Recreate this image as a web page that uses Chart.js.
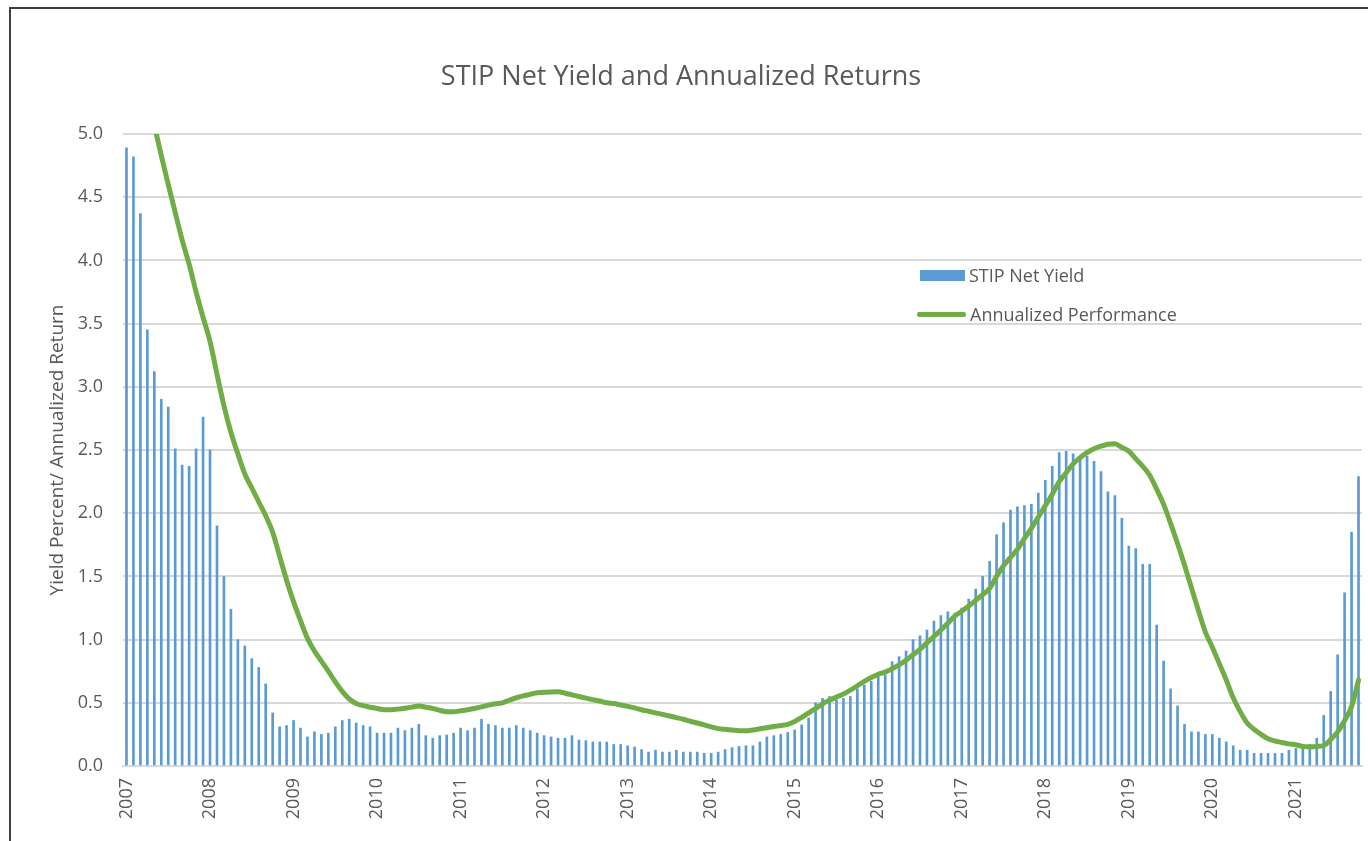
<!DOCTYPE html>
<html><head><meta charset="utf-8">
<script src="https://cdn.jsdelivr.net/npm/chart.js@4.4.0/dist/chart.umd.min.js"></script>
<style>
html,body{margin:0;padding:0;background:#fff;}
#wrap{position:relative;width:1368px;height:841px;overflow:hidden;}
#frame{position:absolute;left:9px;top:7px;width:1400px;height:900px;border-top:2px solid #404040;border-left:2px solid #404040;}
canvas{position:absolute;left:0;top:0;}
.lg{position:absolute;font-family:'Open Sans';font-size:18px;color:#595959;line-height:20px;white-space:nowrap;}
</style></head><body>
<div id="wrap">
<div id="frame"></div>
<canvas id="c" width="1368" height="841"></canvas>
<div style="position:absolute;left:920px;top:270px;width:45px;height:11px;background:#5B9BD5"></div>
<div class="lg" style="left:969px;top:265px">STIP Net Yield</div>
<div style="position:absolute;left:917px;top:312px;width:49px;height:5px;background:#70AD47;border-radius:2px"></div>
<div class="lg" style="left:970px;top:304px">Annualized Performance</div>
</div>
<script>
const yearLabels = ['2007','2008','2009','2010','2011','2012','2013','2014','2015','2016','2017','2018','2019','2020','2021'];
const monthsShown = 178; // Jan 2007 - Oct 2021
const categories = [];
for (const y of yearLabels) for (let m = 1; m <= 12; m++) categories.push(y + '-' + String(m).padStart(2,'0'));
categories.length = monthsShown;

const netYield = [
 4.89,4.82,4.37,3.45,3.12,2.90,2.84,2.51,2.38,2.37,2.51,2.76,
 2.50,1.90,1.50,1.24,1.00,0.95,0.85,0.78,0.65,0.42,0.31,0.32,
 0.36,0.30,0.23,0.27,0.25,0.26,0.31,0.36,0.37,0.34,0.32,0.31,
 0.26,0.26,0.26,0.30,0.28,0.30,0.33,0.24,0.22,0.24,0.245,0.26,
 0.30,0.28,0.30,0.37,0.33,0.32,0.30,0.30,0.32,0.30,0.28,0.26,
 0.24,0.23,0.22,0.22,0.24,0.205,0.20,0.19,0.19,0.19,0.17,0.17,
 0.16,0.15,0.13,0.11,0.125,0.11,0.11,0.125,0.11,0.11,0.11,0.10,
 0.10,0.11,0.13,0.145,0.155,0.16,0.16,0.19,0.23,0.24,0.25,0.265,
 0.285,0.325,0.38,0.50,0.535,0.55,0.52,0.535,0.55,0.61,0.64,0.67,
 0.71,0.72,0.825,0.865,0.91,1.00,1.03,1.076,1.147,1.19,1.22,1.21,
 1.25,1.32,1.40,1.50,1.62,1.83,1.925,2.025,2.05,2.06,2.07,2.16,
 2.26,2.37,2.48,2.49,2.47,2.45,2.45,2.41,2.33,2.17,2.14,1.96,
 1.74,1.72,1.595,1.595,1.115,0.83,0.61,0.475,0.33,0.27,0.27,0.25,
 0.25,0.22,0.19,0.16,0.125,0.125,0.10,0.10,0.10,0.10,0.10,0.125,
 0.14,0.15,0.17,0.22,0.40,0.59,0.88,1.37,1.85,2.29
];
const annualized = [
 6.00,5.75,5.52,5.30,5.07,4.83,4.60,4.38,4.16,3.97,3.75,3.55,
 3.36,3.10,2.85,2.64,2.47,2.31,2.20,2.09,1.98,1.85,1.66,1.47,
 1.30,1.15,1.01,0.91,0.83,0.75,0.665,0.59,0.53,0.495,0.477,0.465,
 0.455,0.445,0.445,0.45,0.457,0.466,0.474,0.465,0.455,0.44,0.43,0.43,
 0.437,0.445,0.455,0.468,0.482,0.492,0.50,0.52,0.54,0.555,0.567,0.58,
 0.583,0.586,0.587,0.576,0.563,0.55,0.537,0.525,0.514,0.50,0.494,0.483,
 0.472,0.46,0.445,0.433,0.42,0.408,0.396,0.383,0.37,0.354,0.34,0.325,
 0.31,0.296,0.29,0.285,0.279,0.278,0.285,0.294,0.303,0.312,0.32,0.33,
 0.353,0.384,0.42,0.455,0.492,0.52,0.545,0.57,0.60,0.635,0.67,0.70,
 0.726,0.743,0.77,0.80,0.837,0.88,0.923,0.975,1.025,1.075,1.13,1.185,
 1.225,1.265,1.31,1.355,1.405,1.50,1.585,1.65,1.715,1.80,1.88,1.97,
 2.06,2.15,2.25,2.32,2.39,2.44,2.48,2.51,2.53,2.545,2.55,2.52,
 2.49,2.43,2.37,2.30,2.19,2.07,1.92,1.76,1.59,1.41,1.23,1.06,
 0.94,0.81,0.68,0.54,0.43,0.34,0.29,0.25,0.215,0.198,0.186,0.175,
 0.168,0.155,0.153,0.155,0.162,0.21,0.27,0.36,0.47,0.68
];
const yTicks = ['0.0','0.5','1.0','1.5','2.0','2.5','3.0','3.5','4.0','4.5','5.0'];

const txt = '#595959';
const fam = "'Open Sans', sans-serif";
new Chart(document.getElementById('c'), {
  data: {
    labels: categories,
    datasets: [
      { type:'line', label:'Annualized Performance', data: annualized, borderColor:'#70AD47', borderWidth:5,
        pointRadius:0, cubicInterpolationMode:'monotone', fill:false, order:1, clip:0, borderCapStyle:'round' },
      { type:'bar', label:'STIP Net Yield', data: netYield, backgroundColor:'#5B9BD5', barThickness:2, order:2 }
    ]
  },
  options: {
    responsive:false, animation:false,
    layout:{ padding:{ left:0, right:6, top:0, bottom:0 } },
    plugins:{
      legend:{ display:false }, tooltip:{ enabled:false },
      title:{ display:true, text:'STIP Net Yield and Annualized Returns', color:txt,
        font:{ family:fam, size:27, weight:'normal' }, padding:{ top:61, bottom:40.6 } }
    },
    scales:{
      x:{ type:'category', offset:true,
        grid:{ display:false, drawTicks:false },
        border:{ display:true, color:'#d9d9d9', width:2 },
        ticks:{ autoSkip:false, minRotation:90, maxRotation:90, padding:12, color:txt,
          font:{ family:fam, size:18 },
          callback:function(v, i){ const c = categories[i]; return c.endsWith('-01') ? c.slice(0,4) : ''; } },
        afterFit:function(s){ s.height = 75; s.paddingLeft = 0; s.paddingRight = 0; }
      },
      y:{ min:0, max:5,
        grid:{ color:'#d9d9d9', lineWidth:2, drawTicks:false },
        border:{ display:false },
        ticks:{ stepSize:0.5, padding:20, color:txt, font:{ family:fam, size:18 },
          callback:function(v){ const i = Math.round(v/0.5); return yTicks[i]; } },
        title:{ display:true, text:'Yield Percent/ Annualized Return', color:txt,
          font:{ family:fam, size:19 }, padding:{ top:46.6, bottom:0 } },
        afterFit:function(s){ s.width = 123; }
      }
    }
  }
});
</script>
</body></html>
